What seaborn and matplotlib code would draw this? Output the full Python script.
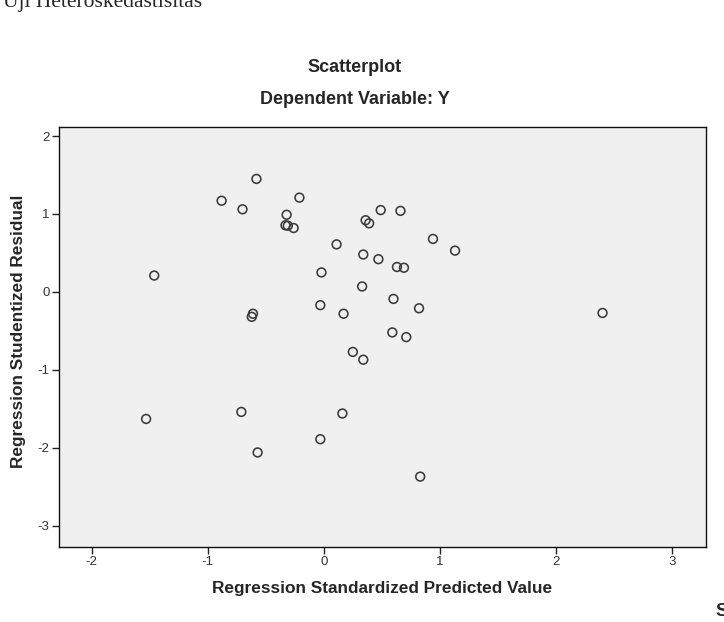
import matplotlib
matplotlib.use("Agg")
import matplotlib.pyplot as plt
import seaborn as sns
import pandas as pd

pred_value = [-0.58, -0.88, -0.70, -0.21, -0.32, -0.33, -0.31, -0.26, 0.36, 0.39,
              0.49, 0.66, 0.94, 1.13, 0.11, 0.34, 0.47, 0.63, 0.69, -0.02,
              -1.46, 0.33, 0.60, -0.03, 0.17, 0.82, -0.61, -0.62, 0.59, 0.71,
              0.25, 0.34, 2.40, -1.53, -0.71, 0.16, -0.03, -0.57, 0.83]
stud_resid = [1.45, 1.17, 1.06, 1.21, 0.99, 0.855, 0.85, 0.82, 0.92, 0.88,
              1.05, 1.04, 0.68, 0.53, 0.61, 0.48, 0.42, 0.32, 0.31, 0.25,
              0.21, 0.07, -0.09, -0.17, -0.28, -0.21, -0.28, -0.32, -0.52, -0.58,
              -0.77, -0.87, -0.27, -1.63, -1.54, -1.56, -1.89, -2.06, -2.37]
x_ticks = [-2, -1, 0, 1, 2, 3]
y_ticks = [2, 1, 0, -1, -2, -3]

df = pd.DataFrame({"pred": pred_value, "resid": stud_resid})

sns.set_style("white")
plt.rcParams['font.family'] = ['Liberation Sans', 'DejaVu Sans']

fig = plt.figure(figsize=(7.24, 6.22), dpi=100)
ax = fig.add_axes([0.0815, 0.1206, 0.8935, 0.6752])
ax.set_facecolor("#f0f0f0")

sns.scatterplot(data=df, x="pred", y="resid", ax=ax, marker="o", s=40,
                facecolor="none", edgecolor="#3a3a3a", linewidth=1.15)

ax.set_xlim(-2.28, 3.29)
ax.set_ylim(-3.273, 2.116)
ax.set_xticks(x_ticks)
ax.set_yticks(y_ticks)
ax.set_xticklabels([str(t) for t in x_ticks])
ax.set_yticklabels([str(t) for t in y_ticks])
ax.tick_params(axis="both", direction="out", length=5, width=1, color="#222222",
               labelsize=9.5, labelcolor="#333333", pad=1.8,
               bottom=True, left=True, top=False, right=False)
for sp in ax.spines.values():
    sp.set_color("#111111")
    sp.set_linewidth(1.0)

ax.set_xlabel("Regression Standardized Predicted Value", fontsize=12.4, fontweight="bold")
ax.set_ylabel("Regression Studentized Residual", fontsize=12.4, fontweight="bold")
ax.xaxis.set_label_coords(0.5, -0.082)
ax.yaxis.set_label_coords(-0.051, 0.514)

fig.text(355 / 724, 1 - 67 / 622, "Scatterplot", ha="center", va="center",
         fontsize=13, fontweight="bold")
fig.text(355 / 724, 1 - 99 / 622, "Dependent Variable: Y", ha="center", va="center",
         fontsize=13, fontweight="bold")

# page fragments around the chart
fig.text(3 / 724, 1 - 2 / 622, "Uji Heteroskedastisitas", ha="left", va="center",
         fontsize=15.5, family=["Liberation Serif", "DejaVu Serif"])
fig.text(715 / 724, 1 - 612 / 622, "S", ha="left", va="center", fontsize=13,
         fontweight="bold")

plt.savefig("out.png", dpi=100)
plt.close()
